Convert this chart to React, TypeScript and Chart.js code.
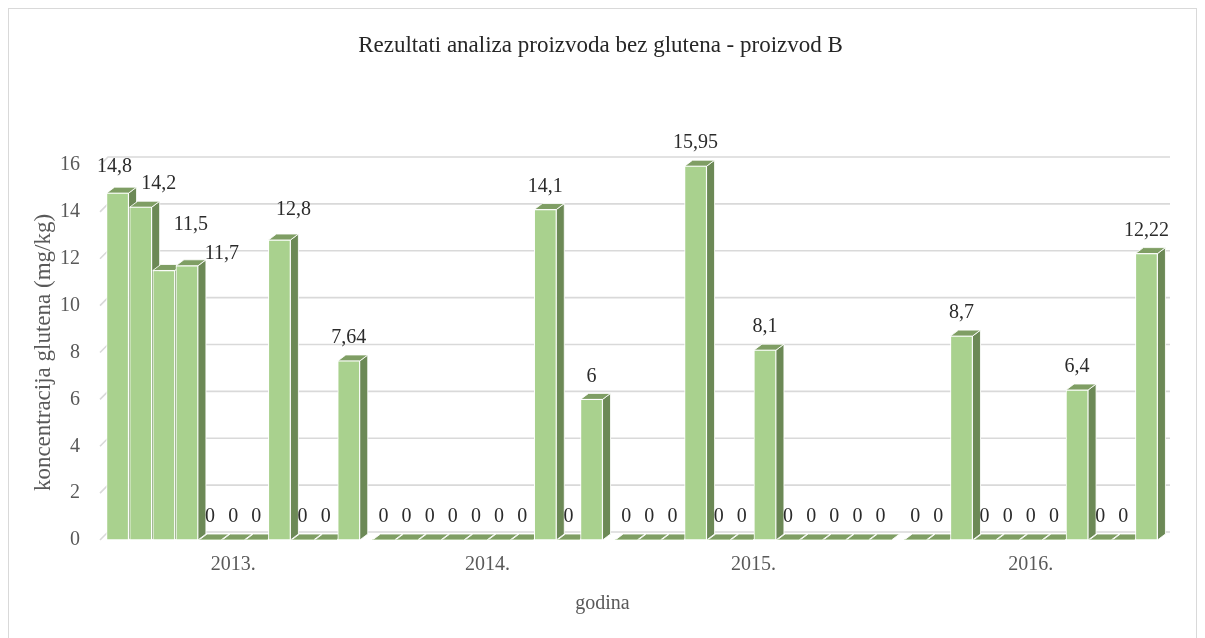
import React, { useEffect, useRef } from 'react';
import { Chart, registerables } from 'chart.js';

Chart.register(...registerables);

// ---------- data ----------
const chartTitle = 'Rezultati analiza proizvoda bez glutena - proizvod B';
const yAxisTitle = 'koncentracija glutena (mg/kg)';
const xAxisTitle = 'godina';
const years = ['2013.', '2014.', '2015.', '2016.'];
const values2013 = [14.8, 14.2, 11.5, 11.7, 0, 0, 0, 12.8, 0, 0, 7.64];
const values2014 = [0, 0, 0, 0, 0, 0, 0, 14.1, 0, 6];
const values2015 = [0, 0, 0, 15.95, 0, 0, 8.1, 0, 0, 0, 0, 0];
const values2016 = [0, 0, 8.7, 0, 0, 0, 0, 6.4, 0, 0, 12.22];
const yMin = 0;
const yMax = 16;
const yStep = 2;

// ---------- styling ----------
const FONT = "'Liberation Serif', 'Times New Roman', serif";
const FRONT = '#A9D18E';
const TOP = '#7F9E64';
const SIDE = '#6C8956';
const DEPTH_X = 8;
const DEPTH_Y = -6;
const WALL_X = 8;
const WALL_Y = -8;
// manual label moves (as in the original chart), keyed "group:index"
const labelNudges: Record<string, [number, number]> = {
  '0:0': [-3, -3],
  '0:1': [18, 0],
  '0:2': [27, -23],
  '0:3': [35, 11],
  '0:7': [14, -7],
};

// ---------- build slot table (half-slot grid: bars 2 apart, groups 3 apart) ----------
const groups = [values2013, values2014, values2015, values2016];
const slotData: (number | null)[] = [null];
const slotKeys: (string | null)[] = [null];
const groupCenters: number[] = [];
groups.forEach((vals, g) => {
  if (g > 0) {
    slotData.push(null, null);
    slotKeys.push(null, null);
  }
  const first = slotData.length;
  vals.forEach((v, i) => {
    if (i > 0) {
      slotData.push(null);
      slotKeys.push(null);
    }
    slotData.push(v);
    slotKeys.push(`${g}:${i}`);
  });
  const last = slotData.length - 1;
  groupCenters.push((first + last) / 2);
});
slotData.push(null);
slotKeys.push(null);
const slotLabels: string[] = slotData.map(() => '');
groupCenters.forEach((c, g) => {
  slotLabels[c] = years[g];
});

const fmt = (v: number) => String(v).replace('.', ',');

const bar3dPlugin = {
  id: 'bar3d',
  beforeDatasetsDraw(chart: any) {
    const { ctx, chartArea, scales } = chart;
    const ys = scales.y;
    ctx.save();
    ctx.strokeStyle = '#D9D9D9';
    ctx.lineWidth = 1.6;
    for (let v = yMin; v <= yMax; v += yStep) {
      const py = ys.getPixelForValue(v);
      ctx.beginPath();
      ctx.moveTo(chartArea.left - 6, py);
      ctx.lineTo(chartArea.left - 6 + WALL_X, py + WALL_Y);
      ctx.lineTo(chartArea.right + 12, py + WALL_Y);
      ctx.stroke();
    }
    const meta = chart.getDatasetMeta(0);
    const data = chart.data.datasets[0].data;
    ctx.lineWidth = 1;
    ctx.strokeStyle = 'rgba(255,255,255,0.85)';
    meta.data.forEach((el: any, i: number) => {
      if (data[i] == null) return;
      const { x, y, base, width } = el.getProps(['x', 'y', 'base', 'width'], true);
      const l = x - width / 2;
      const r = x + width / 2;
      if (base - y > 0.5) {
        ctx.beginPath();
        ctx.moveTo(r, y);
        ctx.lineTo(r + DEPTH_X, y + DEPTH_Y);
        ctx.lineTo(r + DEPTH_X, base + DEPTH_Y);
        ctx.lineTo(r, base);
        ctx.closePath();
        ctx.fillStyle = SIDE;
        ctx.fill();
        ctx.stroke();
      }
      ctx.beginPath();
      ctx.moveTo(l, y);
      ctx.lineTo(l + DEPTH_X, y + DEPTH_Y);
      ctx.lineTo(r + DEPTH_X, y + DEPTH_Y);
      ctx.lineTo(r, y);
      ctx.closePath();
      ctx.fillStyle = TOP;
      ctx.fill();
      ctx.stroke();
    });
    ctx.restore();
  },
  afterDatasetsDraw(chart: any) {
    const { ctx } = chart;
    const meta = chart.getDatasetMeta(0);
    const data = chart.data.datasets[0].data;
    ctx.save();
    ctx.font = `20px ${FONT}`;
    ctx.fillStyle = '#2b2b2b';
    ctx.textAlign = 'center';
    ctx.textBaseline = 'middle';
    meta.data.forEach((el: any, i: number) => {
      const v = data[i];
      if (v == null) return;
      const key = slotKeys[i] as string;
      const n = labelNudges[key] || [0, 0];
      ctx.fillText(fmt(v), el.x + n[0], el.y - 23 + n[1]);
    });
    // x axis title, centred on the whole chart
    ctx.fillStyle = '#595959';
    ctx.fillText(xAxisTitle, chart.width / 2, 595);
    // chart title, centred on the whole chart
    ctx.font = `23px ${FONT}`;
    ctx.fillStyle = '#262626';
    ctx.fillText(chartTitle, chart.width / 2 - 2, 37);
    ctx.restore();
  },
};

export default function App() {
  const ref = useRef<HTMLCanvasElement>(null);
  useEffect(() => {
    document.body.style.overflow = 'hidden';
    const canvas = ref.current as HTMLCanvasElement;
    const chart = new Chart(canvas, {
      type: 'bar',
      data: {
        labels: slotLabels,
        datasets: [
          {
            data: slotData as any,
            backgroundColor: FRONT,
            borderColor: '#FFFFFF',
            borderWidth: (c: any) => (c.raw ? 1 : 0),
            borderSkipped: false,
            barThickness: 22,
          },
        ],
      },
      options: {
        animation: false,
        responsive: false,
        devicePixelRatio: 1,
        layout: { padding: { left: 0, right: 38, top: 156, bottom: 0 } },
        plugins: {
          legend: { display: false },
          tooltip: { enabled: false },
          title: { display: false },
        },
        scales: {
          x: {
            type: 'category',
            offset: false,
            grid: { display: false, offset: false },
            border: { display: false },
            ticks: {
              autoSkip: false,
              maxRotation: 0,
              minRotation: 0,
              padding: 5,
              color: '#595959',
              font: { family: FONT, size: 20 },
            },
            afterFit: (s: any) => {
              s.height = 109;
            },
          },
          y: {
            min: yMin,
            max: yMax,
            grid: { display: false },
            border: { display: false },
            ticks: {
              stepSize: yStep,
              padding: 18,
              color: '#595959',
              font: { family: FONT, size: 20 },
            },
            title: {
              display: true,
              text: yAxisTitle,
              color: '#595959',
              font: { family: FONT, size: 23 },
              padding: { top: 21, bottom: 0 },
            },
            afterFit: (s: any) => {
              s.width = 97;
            },
          },
        },
      },
      plugins: [bar3dPlugin],
    });
    return () => chart.destroy();
  }, []);
  return (
    <div
      style={{
        position: 'relative',
        width: 1187,
        height: 640,
        border: '1px solid #D9D9D9',
        background: '#FFFFFF',
      }}
    >
      <canvas ref={ref} width={1187} height={640} style={{ display: 'block' }} />
    </div>
  );
}
